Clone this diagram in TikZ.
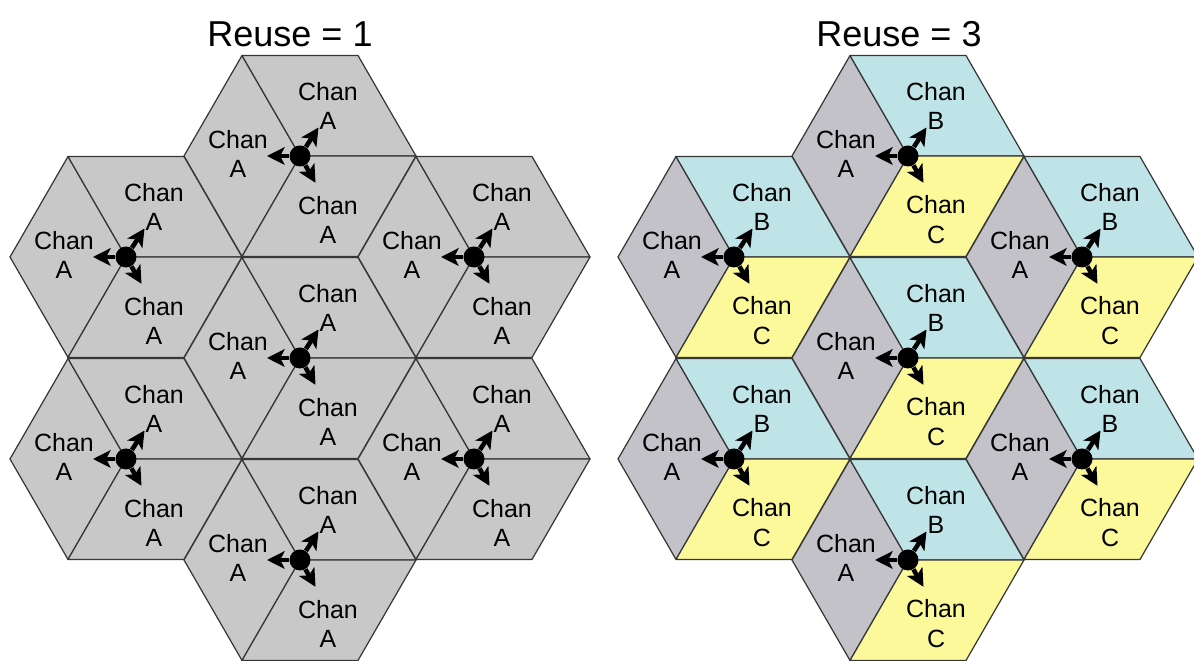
\documentclass[tikz,border=0pt]{standalone}
\usepackage{fontspec}
\setmainfont{Liberation Sans}
\usetikzlibrary{arrows.meta}
\definecolor{gryl}{RGB}{200,200,200}
\definecolor{gryr}{RGB}{195,194,200}
\definecolor{cyn}{RGB}{190,228,232}
\definecolor{yel}{RGB}{252,249,155}
\definecolor{edg}{RGB}{55,55,55}
\tikzset{
  rh/.style={draw=edg, line width=0.7pt, line join=round},
  hub/.style={circle, fill=black, inner sep=0pt, minimum size=0.42cm},
  ar/.style={-{Stealth[length=10pt,width=10pt,inset=2.5pt]}, line width=2.6pt},
  lbl/.style={align=center, font=\fontsize{14.2}{17}\selectfont},
  ttl/.style={font=\fontsize{20.5}{24}\selectfont}
}

\begin{document}
\begin{tikzpicture}[x=0.02cm, y=0.02cm]
  \useasboundingbox (0,0) rectangle (1194,661);
  \node[ttl] (t1) at (290,627) {Reuse = 1};
  \node[ttl] (t3) at (899,627) {Reuse = 3};
  % two clusters, seven cells each
  \foreach \ox/\ca/\cb/\cc/\ta/\tb/\tc/\k in {0/gryl/gryl/gryl/A/A/A/l, 608/gryr/cyn/yel/A/B/C/r} {
    \foreach \cx/\cy/\n in {300/505/1, 126/404/2, 474/404/3, 300/303/4, 126/202/5, 474/202/6, 300/101/7} {
      \begin{scope}[shift={(\ox,0)}]
        \coordinate (c-\k\n) at (\cx,\cy);
        \filldraw[rh, fill=\ca] (c-\k\n) -- ++(120:116) -- ++(240:116) -- ++(300:116) -- cycle;
        \filldraw[rh, fill=\cb] (c-\k\n) -- ++(0:116) -- ++(120:116) -- ++(180:116) -- cycle;
        \filldraw[rh, fill=\cc] (c-\k\n) -- ++(240:116) -- ++(0:116) -- ++(60:116) -- cycle;
        \node[hub] (hub-\k\n) at (c-\k\n) {};
        \coordinate (tw-\k\n) at ([shift={(180:33)}]c-\k\n);
        \coordinate (tu-\k\n) at ([shift={(57:34)}]c-\k\n);
        \coordinate (td-\k\n) at ([shift={(-60:31)}]c-\k\n);
        \draw[ar] (hub-\k\n) -- (tw-\k\n);
        \draw[ar] (hub-\k\n) -- (tu-\k\n);
        \draw[ar] (hub-\k\n) -- (td-\k\n);
        \node[lbl] (la-\k\n) at (\cx-62,\cy+2) {Chan\\\ta};
        \node[lbl] (lb-\k\n) at (\cx+28,\cy+50) {Chan\\\tb};
        \node[lbl] (lc-\k\n) at (\cx+28,\cy-64) {Chan\\\tc};
      \end{scope}
    }
  }
\end{tikzpicture}
\end{document}
